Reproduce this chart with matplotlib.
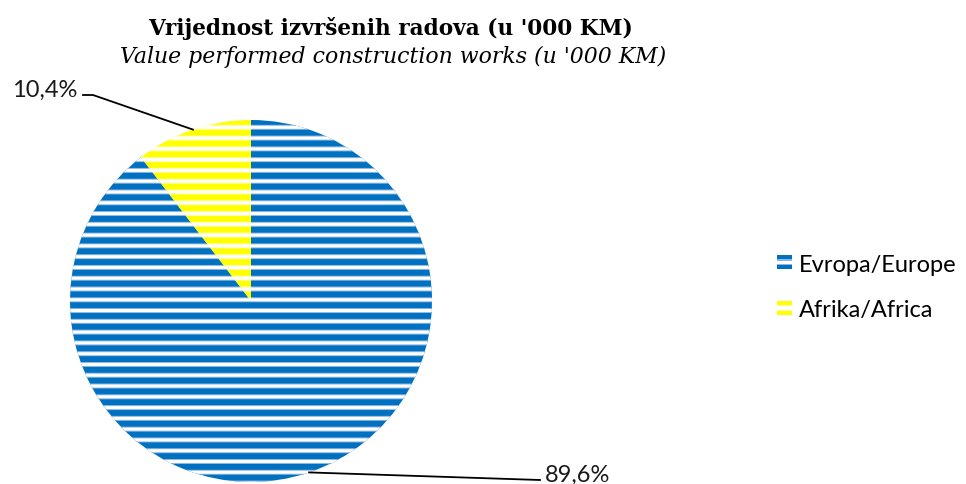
import numpy as np
import matplotlib.pyplot as plt
from matplotlib.patches import Patch, Rectangle
from matplotlib.legend_handler import HandlerBase

# data
labels = ['Evropa/Europe', 'Afrika/Africa']
shares = [89.6, 10.4]
pct_labels = ['89,6%', '10,4%']
colors = ['#0070C0', '#FFFF00']
soft_colors = ['#8DB8E2', '#FFFF9A']

title = "Vrijednost izvršenih radova (u '000 KM)"
subtitle = "Value performed construction works (u '000 KM)"

W, H = 966, 485
fig = plt.figure(figsize=(W / 100, H / 100), dpi=100)

# pie axes: centre (251, 302) px, radius 181 px
cx, cy, r = 251, 302, 181
ax = fig.add_axes([(cx - r) / W, (H - cy - r) / H, 2 * r / W, 2 * r / H])
wedges, _ = ax.pie(shares, colors=colors, startangle=90, counterclock=False,
                   radius=1, wedgeprops=dict(linewidth=0))
ax.set_xlim(-1, 1)
ax.set_ylim(-1, 1)
ax.axis('off')

# horizontal stripe pattern (white gaps) clipped to each wedge
period = 10.78 / r
first = (cy - 128.3) / r
centres = first - period * np.arange(0, 40)
centres = centres[centres > -1.05]
for wedge, soft in zip(wedges, soft_colors):
    for yc in centres:
        for h, c in ((5.0 / r, soft), (3.0 / r, 'white')):
            band = Rectangle((-1.1, yc - h / 2), 2.2, h, facecolor=c,
                             edgecolor='none', zorder=2, snap=False)
            ax.add_patch(band)
            band.set_clip_path(wedge)

# percentage labels with leader lines
lbl_font = 'Lato'
label_pos = {
    '89,6%': ((540 - cx) / r, (cy - 481) / r, (545 - cx) / r, 'left'),
    '10,4%': ((83 - cx) / r, (cy - 96) / r, (77 - cx) / r, 'right'),
}
for wedge, txt in zip(wedges, pct_labels):
    ang = np.deg2rad((wedge.theta1 + wedge.theta2) / 2)
    x0, y0 = np.cos(ang), np.sin(ang)
    lx, ly, tx, ha = label_pos[txt]
    if ha == 'right':
        pts_x = [x0, lx + 10 / r, lx]
        pts_y = [y0, ly, ly]
    else:
        pts_x = [x0, lx]
        pts_y = [y0, ly]
    ax.plot(pts_x, pts_y, color='black', lw=1.3, clip_on=False, zorder=3)
    ax.text(tx, ly - 0.5 / r, txt, ha=ha, va='baseline', fontsize=17,
            family=lbl_font, color='#1a1a1a', clip_on=False)

# titles
fig.text(390 / W, 1 - 28 / H, title, ha='center', va='center',
         fontsize=15.6, fontweight='bold', family='DejaVu Serif')
fig.text(393 / W, 1 - 57 / H, subtitle, ha='center', va='center',
         fontsize=15.8, style='italic', family='DejaVu Serif')


class StripeHandler(HandlerBase):
    # small swatch: colour / white gap / colour, like the pie pattern
    def create_artists(self, legend, orig_handle, xdescent, ydescent,
                       width, height, fontsize, trans):
        fc = orig_handle.get_facecolor()
        soft = orig_handle.get_edgecolor()
        x, y = -xdescent, -ydescent
        base = Rectangle((x, y), width, height, facecolor=fc,
                         edgecolor='none', transform=trans)
        mid = Rectangle((x, y + height * 0.3), width, height * 0.4,
                        facecolor=soft, edgecolor='none', transform=trans)
        gap = Rectangle((x, y + height * 0.38), width, height * 0.24,
                        facecolor='white', edgecolor='none', transform=trans)
        return [base, mid, gap]


handles = [Patch(facecolor=c, edgecolor=s) for c, s in zip(colors, soft_colors)]
fig.legend(handles, labels, handler_map={Patch: StripeHandler()},
           loc='center left', bbox_to_anchor=(777 / W, 1 - 288 / H),
           frameon=False, prop={'family': lbl_font, 'size': 17},
           handlelength=0.64, handleheight=0.55, handletextpad=0.3,
           labelspacing=1.05, borderaxespad=0, borderpad=0)

fig.savefig('out.png', dpi=100)
